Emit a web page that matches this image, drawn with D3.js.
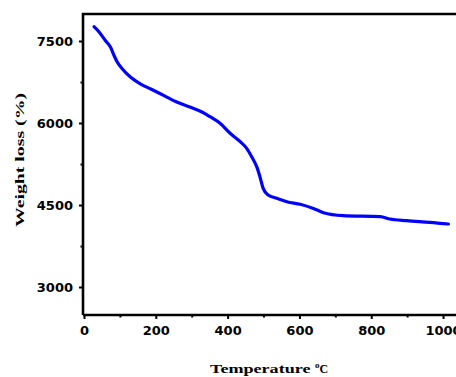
<!DOCTYPE html>
<html>
<head>
<meta charset="utf-8">
<script src="https://cdn.jsdelivr.net/npm/d3@7"></script>
<style>
  body { margin: 0; background: #fff; }
  svg { display: block; }
</style>
</head>
<body>
<svg id="chart" width="456" height="377"></svg>
<script>
// TGA curve
const temperature = [28, 42, 60, 74, 84, 93, 107, 130, 158, 186, 223, 260, 297, 330, 351, 379, 407, 435, 453, 467, 481, 490, 499, 513, 537, 565, 602, 639, 667, 722, 825, 852, 899, 964, 1015];
const weight = [7762, 7665, 7505, 7385, 7231, 7110, 6988, 6836, 6713, 6622, 6500, 6379, 6287, 6196, 6115, 5995, 5812, 5658, 5537, 5384, 5201, 5018, 4805, 4683, 4623, 4561, 4513, 4436, 4360, 4305, 4286, 4244, 4213, 4184, 4153];

const xTicks = [0, 200, 400, 600, 800, 1000];
const xMinor = [100, 300, 500, 700, 900];
const yTicks = [3000, 4500, 6000, 7500];
const yMinor = [3750, 5250, 6750];

const svg = d3.select('#chart');

// plot box (right side runs off the picture, like the original crop)
const plotLeft = 83, plotTop = 14, plotBottom = 315;

const x = d3.scaleLinear().domain([0, 1040]).range([84, 457.4]);
const y = d3.scaleLinear().domain([2488, 7994]).range([plotBottom, plotTop]);

// frame
svg.append('path')
    .attr('d', `M${plotLeft},${plotBottom}V${plotTop}H470`)
    .attr('fill', 'none')
    .attr('stroke', '#000')
    .attr('stroke-width', 2.6);
svg.append('line')
    .attr('x1', plotLeft).attr('x2', 470)
    .attr('y1', plotBottom).attr('y2', plotBottom)
    .attr('stroke', '#000')
    .attr('stroke-width', 2.6);

// x axis
const xAxis = svg.append('g')
    .attr('transform', `translate(0,${plotBottom})`)
    .call(d3.axisBottom(x).tickValues(xTicks).tickSize(4).tickPadding(7).tickFormat(d3.format('d')));
xAxis.select('.domain').remove();
xAxis.selectAll('.tick line').attr('stroke-width', 2);
xAxis.selectAll('.tick text')
    .attr('font-family', 'DejaVu Sans')
    .attr('font-weight', 'bold')
    .attr('font-size', 13)
    .attr('fill', '#000');
svg.append('g')
    .attr('transform', `translate(0,${plotBottom})`)
    .call(d3.axisBottom(x).tickValues(xMinor).tickSize(2.5).tickFormat(''))
    .call(g => g.select('.domain').remove())
    .selectAll('line').attr('stroke-width', 2);

// y axis
const yAxis = svg.append('g')
    .attr('transform', `translate(${plotLeft},0)`)
    .call(d3.axisLeft(y).tickValues(yTicks).tickSize(4).tickPadding(6).tickFormat(d3.format('d')));
yAxis.select('.domain').remove();
yAxis.selectAll('.tick line').attr('stroke-width', 2);
yAxis.selectAll('.tick text')
    .attr('font-family', 'DejaVu Sans')
    .attr('font-weight', 'bold')
    .attr('font-size', 13)
    .attr('fill', '#000');
svg.append('g')
    .attr('transform', `translate(${plotLeft},0)`)
    .call(d3.axisLeft(y).tickValues(yMinor).tickSize(2.5).tickFormat(''))
    .call(g => g.select('.domain').remove())
    .selectAll('line').attr('stroke-width', 2);

// curve
const line = d3.line()
    .x((d, i) => x(temperature[i]))
    .y(d => y(d))
    .curve(d3.curveMonotoneX);

svg.append('path')
    .datum(weight)
    .attr('d', line)
    .attr('fill', 'none')
    .attr('stroke', '#0000ff')
    .attr('stroke-width', 3.2)
    .attr('stroke-linejoin', 'round')
    .attr('stroke-linecap', 'round');

// axis titles
const xTitle = svg.append('text')
    .attr('x', 210)
    .attr('y', 373)
    .attr('font-family', 'Liberation Serif')
    .attr('font-weight', 'bold')
    .attr('font-size', 12)
    .attr('fill', '#000');
xTitle.append('tspan')
    .attr('textLength', 105)
    .attr('lengthAdjust', 'spacingAndGlyphs')
    .text('Temperature ');
xTitle.append('tspan')
    .attr('dy', -5)
    .attr('font-size', 9)
    .text('o');
xTitle.append('tspan')
    .attr('dy', 5)
    .text('C');

svg.append('text')
    .attr('transform', 'translate(24,160) rotate(-90)')
    .attr('text-anchor', 'middle')
    .attr('font-family', 'Liberation Serif')
    .attr('font-weight', 'bold')
    .attr('font-size', 12)
    .attr('textLength', 134)
    .attr('lengthAdjust', 'spacingAndGlyphs')
    .attr('fill', '#000')
    .text('Weight loss (%)');
</script>
</body>
</html>
